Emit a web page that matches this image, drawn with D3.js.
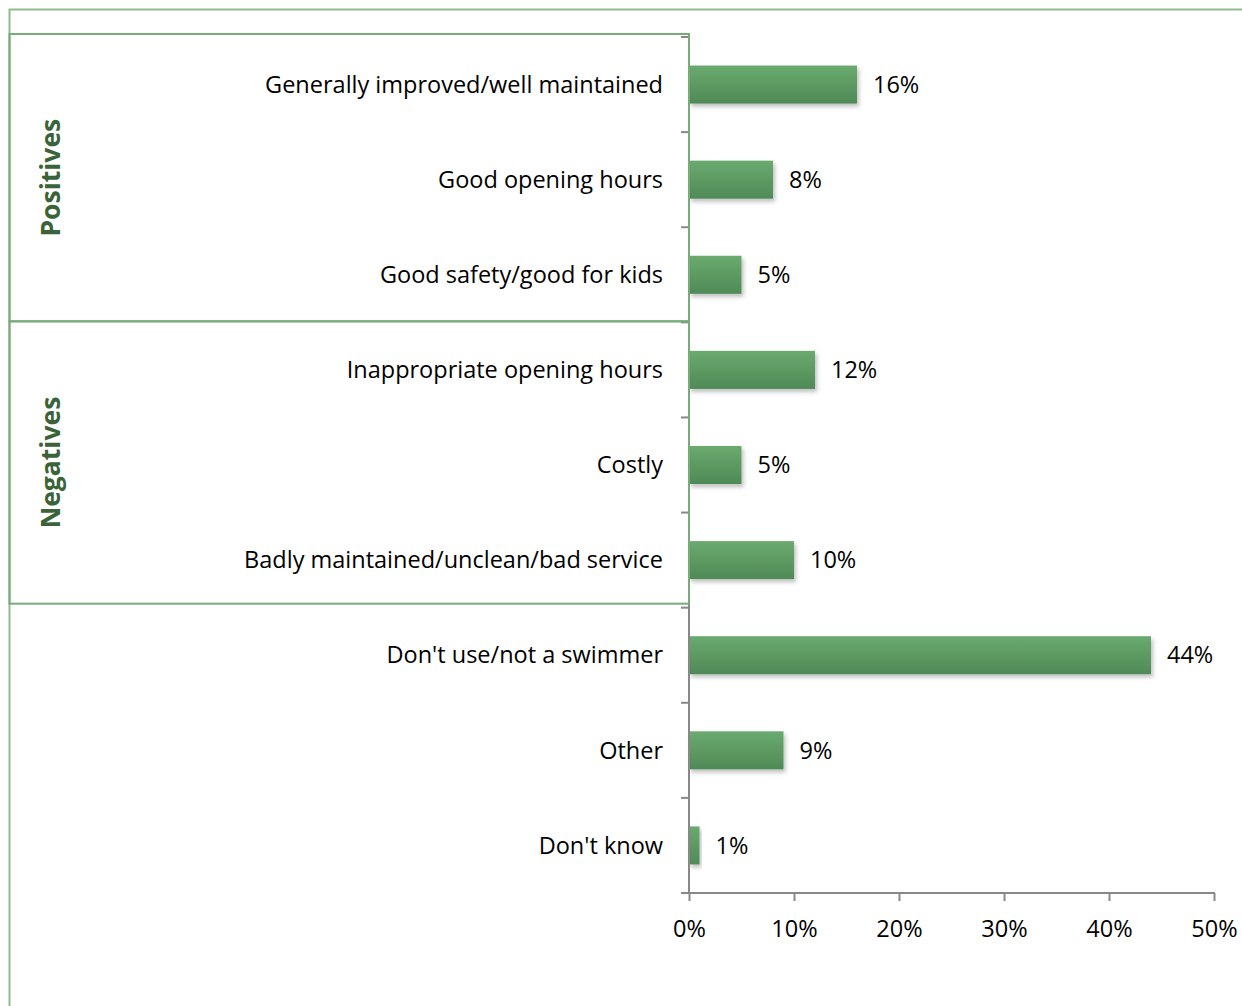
<!DOCTYPE html>
<html lang="en">
<head>
  <meta charset="UTF-8">
  <title>Swimming pool opinions</title>
  <script src="https://d3js.org/d3.v7.min.js"></script>
  <style>
    body { margin: 0; background: #fff; }
    svg { display: block; font-family: "Open Sans", Lato, sans-serif; }
  </style>
</head>
<body>
  <svg id="chart"></svg>
  <script>
    const categories = [
      "Generally improved/well maintained",
      "Good opening hours",
      "Good safety/good for kids",
      "Inappropriate opening hours",
      "Costly",
      "Badly maintained/unclean/bad service",
      "Don't use/not a swimmer",
      "Other",
      "Don't know"
    ];
    const values = [16, 8, 5, 12, 5, 10, 44, 9, 1];
    const xTicks = [0, 10, 20, 30, 40, 50];
    const groups = [
      { name: "Positives", first: 0, last: 2 },
      { name: "Negatives", first: 3, last: 5 }
    ];

    const width = 1242, height = 1006;
    const fontSize = 23.5;
    const svg = d3.select("#chart").attr("width", width).attr("height", height);

    const x = d3.scaleLinear().domain([0, 50]).range([689, 1214]);
    const y = d3.scaleBand().domain(categories).range([37, 893]).paddingInner(0.6).paddingOuter(0.3);
    const step = y.step();

    const defs = svg.append("defs");
    const grad = defs.append("linearGradient").attr("id", "barGrad")
      .attr("x1", 0).attr("y1", 0).attr("x2", 0).attr("y2", 1);
    grad.append("stop").attr("offset", "0%").attr("stop-color", "#6aaa6f");
    grad.append("stop").attr("offset", "100%").attr("stop-color", "#4f8a56");
    const shadow = defs.append("filter").attr("id", "shadow")
      .attr("x", "-10%").attr("y", "-20%").attr("width", "130%").attr("height", "160%");
    shadow.append("feDropShadow").attr("dx", 2).attr("dy", 3).attr("stdDeviation", 2)
      .attr("flood-color", "#000").attr("flood-opacity", 0.25);

    // outer frame
    svg.append("path")
      .attr("d", `M9.5,${height} V9.5 H${width}`)
      .attr("fill", "none").attr("stroke", "#8fbb8f").attr("stroke-width", 2);

    // bars
    svg.append("g").selectAll("rect")
      .data(values)
      .join("rect")
      .attr("x", x(0))
      .attr("y", (d, i) => y(categories[i]))
      .attr("width", d => x(d) - x(0))
      .attr("height", y.bandwidth())
      .attr("fill", "url(#barGrad)")
      .attr("filter", "url(#shadow)");

    // value labels
    svg.append("g").selectAll("text")
      .data(values)
      .join("text")
      .attr("x", d => x(d) + 16)
      .attr("y", (d, i) => y(categories[i]) + y.bandwidth() / 2)
      .attr("dy", "0.35em")
      .attr("font-size", fontSize)
      .attr("fill", "#000")
      .text(d => d + "%");

    // x axis
    const xAxis = svg.append("g")
      .attr("transform", "translate(0,893)")
      .call(d3.axisBottom(x).tickValues(xTicks).tickFormat(d => d + "%").tickSize(8).tickPadding(19));
    xAxis.select(".domain").attr("stroke", "#888").attr("stroke-width", 2).attr("d", "M681,0H1215");
    xAxis.selectAll(".tick line").attr("stroke", "#888").attr("stroke-width", 2);
    xAxis.selectAll(".tick text").attr("font-size", fontSize).attr("fill", "#000")
      .attr("font-family", "'Open Sans', Lato, sans-serif");

    // y axis line + ticks at band edges
    const yg = svg.append("g");
    yg.append("line").attr("x1", 689).attr("x2", 689).attr("y1", 37).attr("y2", 893)
      .attr("stroke", "#888").attr("stroke-width", 2);
    yg.selectAll("line.tk")
      .data(d3.range(categories.length + 1))
      .join("line").attr("class", "tk")
      .attr("x1", 681).attr("x2", 689)
      .attr("y1", i => 37 + i * step).attr("y2", i => 37 + i * step)
      .attr("stroke", "#888").attr("stroke-width", 2);

    // category labels
    svg.append("g").selectAll("text")
      .data(categories)
      .join("text")
      .attr("x", 663)
      .attr("y", d => y(d) + y.bandwidth() / 2)
      .attr("dy", "0.35em")
      .attr("text-anchor", "end")
      .attr("font-size", fontSize)
      .attr("fill", "#000")
      .text(d => d);

    // group boxes
    groups.forEach(g => {
      const top = g.first === 0 ? 34 : 37 + g.first * step - 1;
      const bottom = 37 + (g.last + 1) * step - (g.first === 0 ? 1 : 4);
      svg.append("rect")
        .attr("x", 9.5).attr("y", top)
        .attr("width", 689 - 9.5).attr("height", bottom - top)
        .attr("fill", "none").attr("stroke", "#7aaa7a").attr("stroke-width", 2);
      svg.append("text")
        .attr("transform", `translate(51,${(top + bottom) / 2}) rotate(-90)`)
        .attr("text-anchor", "middle")
        .attr("dy", "0.35em")
        .attr("font-size", 26.5)
        .attr("font-weight", "bold")
        .attr("fill", "#3b6339")
        .text(g.name);
    });
  </script>
</body>
</html>
